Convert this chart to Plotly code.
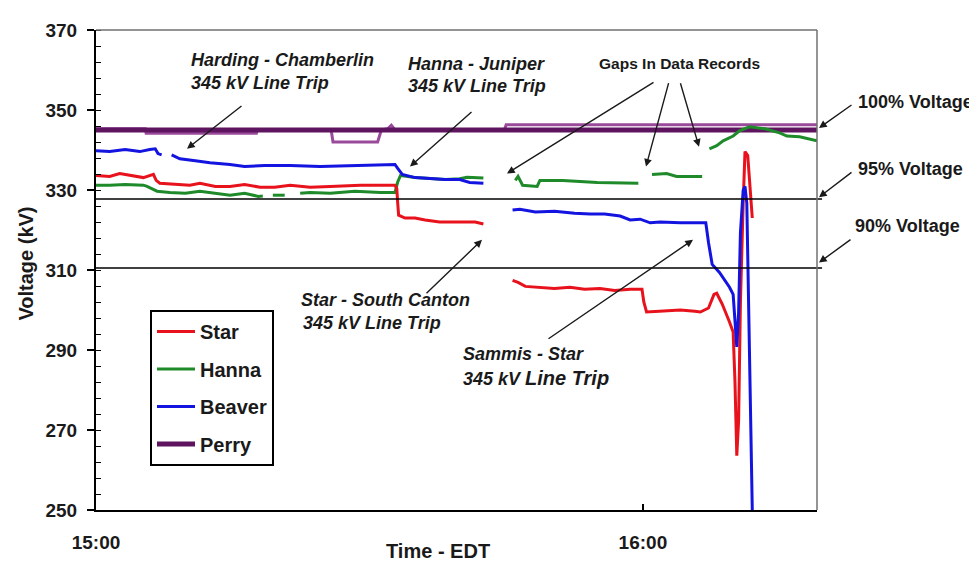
import plotly.graph_objects as go

# ---------------- data (minutes after 15:00 EDT, kV) ----------------
star_t = [0, 1.5, 2.6, 4.1, 5.2, 6.3, 6.6, 7.0, 8.7, 10.3, 11.4, 13.1, 14.7, 16.3, 18.0, 19.6, 21.3,
          23.5, 25.7, 29.0, 32.8, 33.0, 33.1, 33.2, 33.9, 35.0, 36.1, 37.7, 39.9, 41.6, 42.5, 44.0,
          45.7, 46.3, 47.1, 48.7, 50.3, 52.0, 53.6, 55.3, 56.9, 58.6, 59.9, 60.1, 60.4, 61.8, 64.1,
          65.7, 66.3, 67.2, 67.8, 68.1, 68.7, 69.5, 69.9, 70.1, 70.3, 70.5, 70.7, 71.0, 71.2, 71.5,
          71.7, 72.0]
star_v = [333.6, 333.4, 334.1, 333.6, 333.1, 333.9, 332.4, 331.7, 331.4, 331.2, 331.7, 330.9, 330.9,
          331.4, 330.7, 330.7, 331.2, 330.7, 330.9, 331.2, 331.2, 330.4, 326.7, 323.7, 323.0, 323.0,
          322.5, 322.0, 322.0, 322.0, 321.5, None,
          307.4, 306.9, 305.9, 305.7, 305.4, 305.7, 305.2, 305.4, 304.9, 305.2, 305.2, 302.0, 299.5,
          299.7, 300.0, 299.7, 299.5, 300.5, 303.9, 304.2, 301.5, 297.0, 294.5, 282.2, 263.6, 272.3,
          302.0, 326.7, 339.6, 338.6, 331.7, 323.0]

hanna_t = [0, 1.5, 3.2, 5.2, 5.6, 6.7, 8.1, 9.8, 11.4, 13.1, 14.7, 16.3, 17.8, 18.3, 18.8,
           19.4, 20.7, 21.5, 22.4, 23.5, 25.7, 28.4, 31.2, 32.8, 33.1, 33.4, 35.0, 36.6, 38.3, 39.9,
           40.7, 42.5, 44.0, 46.0, 46.3, 46.8, 48.4, 48.7, 51.2, 55.0, 59.5, 60.2, 61.0, 62.6, 63.7,
           66.5, 67.0, 67.3, 68.1, 68.8, 69.9, 70.6, 71.7, 73.4, 75.0, 75.8, 77.2, 79.1]
hanna_v = [331.2, 331.2, 331.4, 331.2, 330.9, 329.7, 329.4, 329.2, 329.7, 329.2, 328.7, 329.2, 328.4,
           328.5, None, 328.7, 328.7, None, 329.2, 329.4, 329.2, 329.7, 329.4, 329.4, 332.0, 333.6,
           333.1, 332.9, 332.6, 332.8, 333.2, 333.0, None, 332.4, 333.4, 331.2, 330.9, 332.4, 332.4,
           331.9, 331.7, None, 333.9, 334.1, 333.4, 333.4, None, 340.3, 341.1, 342.3, 343.5, 344.8,
           345.8, 345.3, 344.3, 343.5, 343.3, 342.3]

beaver_t = [0, 1.5, 3.2, 4.8, 5.9, 6.5, 6.8, 7.2, 7.8, 8.3, 9.2, 10.9, 12.5, 14.7, 16.3, 18.5, 21.3,
            24.6, 27.9, 31.2, 32.8, 33.1, 33.6, 35.0, 36.6, 38.3, 39.9, 41.0, 42.5, 44.0, 45.7, 46.5,
            48.2, 50.3, 52.5, 54.2, 55.8, 57.5, 58.6, 59.7, 60.8, 61.9, 64.1, 66.9, 67.2, 67.6, 68.4,
            69.5, 69.9, 70.3, 70.5, 70.7, 71.0, 71.2, 71.4, 71.6, 72.0]
beaver_v = [339.8, 339.6, 340.1, 339.6, 340.1, 340.3, 339.1, 338.8, None, 338.8, 337.8, 337.3, 336.8,
            336.4, 335.9, 336.1, 336.1, 335.9, 336.1, 336.4, 336.4, 335.4, 333.9, 333.1, 332.9, 332.6,
            332.6, 331.9, 331.7, None, 325.0, 325.2, 324.5, 324.7, 324.2, 324.0, 324.0, 323.5, 322.5,
            322.7, 321.8, 322.0, 321.8, 321.8, 316.8, 311.4, 309.4, 305.7, 303.9, 290.8, 299.5, 319.3,
            329.9, 330.9, 326.7, 302.0, 250.0]

perry_t = [0, 10.0, 20.0, 30.0, 40.0, 50.0, 60.0, 70.0, 79.1]
perry_v = [345.0, 345.0, 345.0, 345.0, 345.0, 345.0, 345.0, 345.0, 345.0]

perry2_t = [0, 5.4, 5.5, 17.6, 17.7, 25.8, 26.0, 30.9, 31.3, 32.0, 32.4, 32.8, 44.8, 45.0, 79.1]
perry2_v = [345.3, 345.3, 344.2, 344.2, 345.0, 345.0, 342.0, 342.0, 345.0, 345.3, 346.2, 345.0,
            345.0, 346.3, 346.3]

ref_levels = [327.75, 310.5]          # 95 % and 90 % of 345 kV
x_tickvals = [0, 60]
x_ticktext = ["15:00", "16:00"]
y_tickvals = [250, 270, 290, 310, 330, 350, 370]

# ---------------- layout geometry ----------------
FONT = "Liberation Sans, Arial, sans-serif"
W, H = 977, 561
BODY = 8                      # default page margin around the plot div
PX0, PX1, PY0, PY1 = 96, 817, 25, 510   # plot area as seen on the page
XMAX = 79.1
L = PX0 - BODY
R = W - (PX1 - BODY)
T = PY0 - BODY
B = H - (PY1 - BODY)


def xp(px):
    return (px - PX0) / (PX1 - PX0)


def yp(py):
    return (PY1 - py) / (PY1 - PY0)


fig = go.Figure()
fig.add_trace(go.Scatter(x=perry2_t, y=perry2_v, mode="lines", name="Perry",
                         line=dict(color="#9a4a9a", width=3), showlegend=False,
                         legendgroup="p2"))
fig.add_trace(go.Scatter(x=perry_t, y=perry_v, mode="lines", name="Perry",
                         line=dict(color="#5e145e", width=5), legendgroup="p", legendrank=4))
fig.add_trace(go.Scatter(x=hanna_t, y=hanna_v, mode="lines", name="Hanna",
                         line=dict(color="#1f8a2a", width=3), legendgroup="h", legendrank=2))
fig.add_trace(go.Scatter(x=star_t, y=star_v, mode="lines", name="Star",
                         line=dict(color="#e8121c", width=3), legendgroup="s", legendrank=1))
fig.add_trace(go.Scatter(x=beaver_t, y=beaver_v, mode="lines", name="Beaver",
                         line=dict(color="#1414e0", width=3), legendgroup="b", legendrank=3))

for lv in ref_levels:
    fig.add_shape(type="line", xref="paper", x0=0, x1=1.007, yref="y", y0=lv, y1=lv,
                  line=dict(color="black", width=1.5))
# lighter top and right frame
fig.add_shape(type="line", xref="paper", yref="paper", x0=0, x1=1, y0=1, y1=1,
              line=dict(color="#707070", width=1.5))
fig.add_shape(type="line", xref="paper", yref="paper", x0=1, x1=1, y0=0, y1=1,
              line=dict(color="#707070", width=1.5))

annos = []


def label(px, py, text, size=18, italic=True):
    annos.append(dict(x=xp(px), y=yp(py), xref="paper", yref="paper", text=text, showarrow=False,
                      xanchor="left", yanchor="middle",
                      font=dict(family=FONT, size=size, color="#1a1a1a", weight="bold",
                                style="italic" if italic else "normal")))


def arrow(hx, hy, tx_, ty_):
    annos.append(dict(x=xp(hx), y=yp(hy), xref="paper", yref="paper", text="", showarrow=True,
                      ax=tx_ - hx, ay=ty_ - hy, arrowhead=2, arrowsize=1.1, arrowwidth=1.4,
                      arrowcolor="#1a1a1a", standoff=0, startstandoff=0))


label(189, 55, "Harding - Chamberlin", 18)
label(189, 79, "345 kV Line Trip", 18)
label(406, 59, "Hanna - Juniper", 18)
label(406, 82, "345 kV Line Trip", 18)
label(597, 59, "Gaps In Data Records", 15.5, italic=False)
label(856, 98, "100% Voltage", 18, italic=False)
label(856, 165, "95% Voltage", 18, italic=False)
label(853, 223, "90% Voltage", 18, italic=False)
label(299, 298, "Star - South Canton", 18)
label(301, 321, "345 kV Line Trip", 18)
label(461, 352, "Sammis - Star", 18)
label(461, 377, "345 kV <span style='font-size:20px'>Line Trip</span>", 18)

arrow(187, 145, 243, 101)
arrow(410, 163, 473, 107)
arrow(507, 170, 655, 78)
arrow(646, 163, 669, 78)
arrow(699, 143, 680, 78)
arrow(819, 124, 853, 100)
arrow(819, 194, 853, 168)
arrow(819, 260, 852, 236)
arrow(482, 237, 425, 292)
arrow(693, 237, 547, 337)

annos.append(dict(xref="paper", yref="paper", x=xp(26), y=yp(261),
                  text="Voltage (kV)", textangle=-90, showarrow=False,
                  xanchor="center", yanchor="middle",
                  font=dict(family=FONT, size=20, color="#1a1a1a", weight="bold")))
annos.append(dict(xref="paper", yref="paper", x=xp(438), y=yp(551),
                  text="Time - EDT", showarrow=False, xanchor="center", yanchor="middle",
                  font=dict(family=FONT, size=20, color="#1a1a1a", weight="bold")))

fig.update_layout(
    width=W, height=H,
    margin=dict(l=L, r=R, t=T, b=B, pad=0),
    paper_bgcolor="white", plot_bgcolor="white",
    showlegend=True,
    legend=dict(x=xp(150), y=yp(308), xanchor="left", yanchor="top",
                bordercolor="black", borderwidth=2, bgcolor="white",
                font=dict(family=FONT, size=20, color="#1a1a1a", weight="bold"),
                traceorder="grouped", tracegroupgap=8.5, itemwidth=38,
                entrywidth=80, entrywidthmode="pixels"),
    annotations=annos,
    xaxis=dict(range=[0, XMAX], tickvals=x_tickvals, ticktext=x_ticktext, ticks="inside",
               ticklen=6, tickwidth=1.5, tickcolor="black", showgrid=False, zeroline=False,
               showline=True, linecolor="black", linewidth=2,
               tickfont=dict(family=FONT, size=19, color="#1a1a1a", weight="bold"),
               ticklabelstandoff=14),
    yaxis=dict(range=[250, 370], tickvals=y_tickvals, ticks="outside", ticklen=7, tickwidth=1.5,
               tickcolor="black", showgrid=False, zeroline=False, showline=True,
               linecolor="black", linewidth=2,
               tickfont=dict(family=FONT, size=19, color="#1a1a1a", weight="bold"),
               ticklabelstandoff=6,
               minor=dict(ticks="inside", ticklen=5, tickwidth=1.2, tickcolor="black",
                          tick0=250, dtick=4, showgrid=False)),
)

fig.write_html("out.html")
